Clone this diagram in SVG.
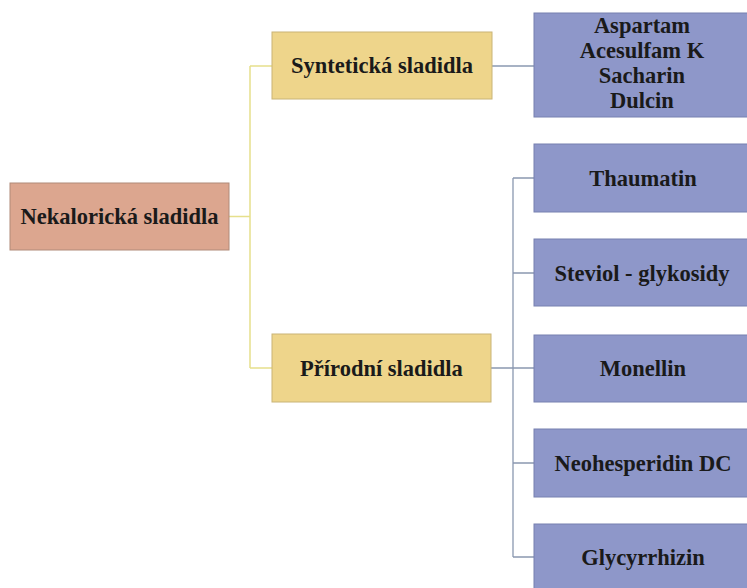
<svg xmlns="http://www.w3.org/2000/svg" width="747" height="588" viewBox="0 0 747 588">
<defs>
<style>
text{font-family:"Liberation Serif","Times New Roman",serif;font-weight:bold;font-size:22.5px;fill:#1a1a1a;text-anchor:middle;dominant-baseline:central}
.root{fill:#dca68f;stroke:#b08a78;stroke-width:1}
.mid{fill:#eed58b;stroke:#c9b477;stroke-width:1}
.leaf{fill:#8e97c9;stroke:#7780b0;stroke-width:1}
.ly{stroke:#e6e08c;stroke-width:1.5;fill:none}
.lb{stroke:#8a98b0;stroke-width:1.3;fill:none}
</style>
</defs>
<rect width="747" height="588" fill="#ffffff"/>
<g id="connectors">
<path class="ly" d="M229,216.5 H250 M250,66 V368 M250,66 H272 M250,368 H272"/>
<path class="lb" d="M492,66 H534"/>
<path class="lb" d="M491,368 H534 M513,178 V557 M513,178 H534 M513,273 H534 M513,463 H534 M513,557 H534"/>
</g>
<g id="root">
<rect class="root" x="10" y="183" width="219" height="67"/>
<text x="119.5" y="216.5">Nekalorická sladidla</text>
</g>
<g id="synteticka">
<rect class="mid" x="272" y="32" width="220" height="67"/>
<text x="382" y="65.5">Syntetická sladidla</text>
</g>
<g id="prirodni">
<rect class="mid" x="272" y="334" width="219" height="68"/>
<text x="381.5" y="368">Přírodní sladidla</text>
</g>
<g id="synteticka-list">
<rect class="leaf" x="534" y="13" width="220" height="104"/>
<text x="642" y="25">Aspartam</text>
<text x="642" y="50">Acesulfam K</text>
<text x="642" y="75">Sacharin</text>
<text x="642" y="100">Dulcin</text>
</g>
<g id="thaumatin">
<rect class="leaf" x="534" y="144" width="220" height="68"/>
<text x="643" y="178">Thaumatin</text>
</g>
<g id="steviol">
<rect class="leaf" x="534" y="239" width="220" height="67"/>
<text x="642" y="273">Steviol - glykosidy</text>
</g>
<g id="monellin">
<rect class="leaf" x="534" y="335" width="220" height="67"/>
<text x="643" y="368">Monellin</text>
</g>
<g id="neohesperidin">
<rect class="leaf" x="534" y="429" width="220" height="68"/>
<text x="643" y="463">Neohesperidin DC</text>
</g>
<g id="glycyrrhizin">
<rect class="leaf" x="534" y="524" width="220" height="68"/>
<text x="643" y="557">Glycyrrhizin</text>
</g>
</svg>
